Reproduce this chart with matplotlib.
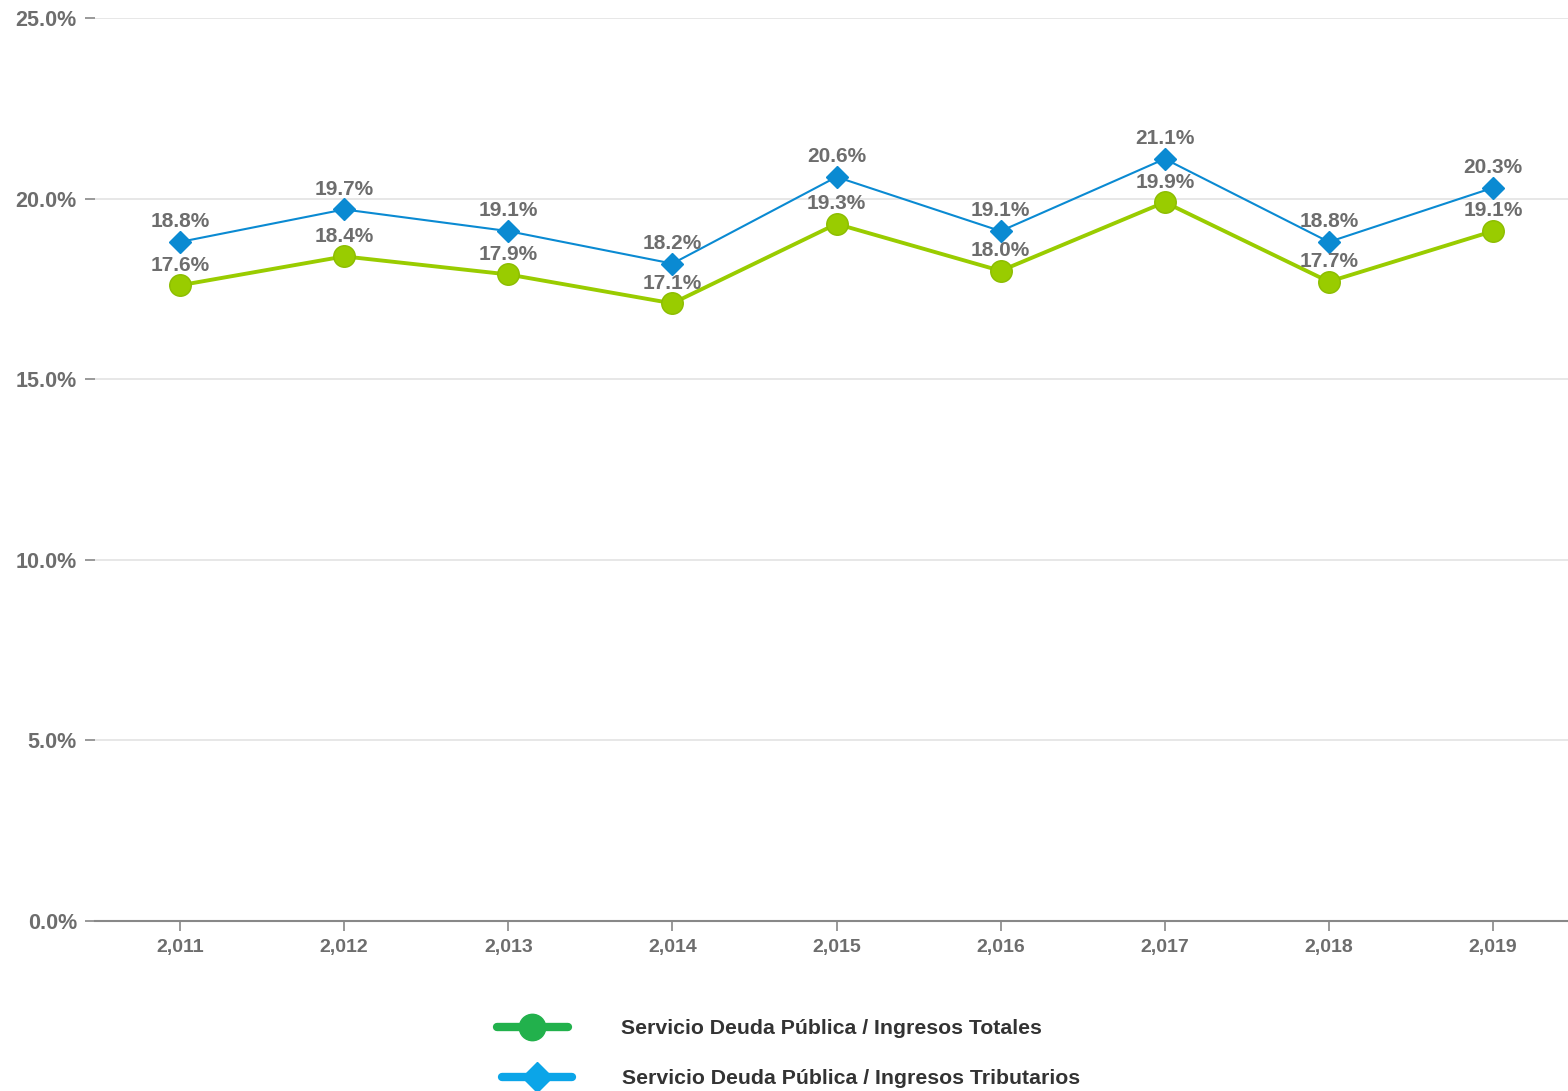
import matplotlib
matplotlib.use("Agg")
import matplotlib.pyplot as plt
from matplotlib.lines import Line2D
import numpy as np

years = ["2,011", "2,012", "2,013", "2,014", "2,015", "2,016", "2,017", "2,018", "2,019"]
totales = [17.6, 18.4, 17.9, 17.1, 19.3, 18.0, 19.9, 17.7, 19.1]
tributarios = [18.8, 19.7, 19.1, 18.2, 20.6, 19.1, 21.1, 18.8, 20.3]
yticks = [0, 5, 10, 15, 20, 25]
names = ["Servicio Deuda Pública / Ingresos Totales", "Servicio Deuda Pública / Ingresos Tributarios"]

plt.rcParams['font.family'] = ['Liberation Sans', 'DejaVu Sans']
W, H = 1568, 1091
fig = plt.figure(figsize=(W/100, H/100), dpi=100)
ax = fig.add_axes([95/W, 1 - 921/H, 1 - 95/W, (921 - 18)/H])

x = np.arange(len(years))
green = "#99cc00"
blue = "#0a8ad2"
lab = "#6d6d6d"

ax.plot(x, totales, color=green, lw=2.8, marker="o", ms=15.5, mfc=green, mec="#8cbd00", mew=1, zorder=3)
ax.plot(x, tributarios, color=blue, lw=1.5, marker="D", ms=11.5, mfc=blue, mec=blue, zorder=4)

for xi, v in zip(x, totales):
    ax.annotate(f"{v:.1f}%", (xi, v), xytext=(0, 14.5), textcoords="offset points",
                ha="center", va="center", color=lab, fontsize=15, fontweight="bold", zorder=5)
for xi, v in zip(x, tributarios):
    ax.annotate(f"{v:.1f}%", (xi, v), xytext=(0, 14.5), textcoords="offset points",
                ha="center", va="center", color=lab, fontsize=15, fontweight="bold", zorder=5)

ax.set_xlim(-0.518, 8.457)
ax.set_ylim(0, 25)
ax.set_yticks(yticks)
ax.set_yticklabels([f"{t:.1f}%" for t in yticks])
ax.set_xticks(x)
ax.set_xticklabels(years)
ax.grid(axis="y", color="#e3e3e3", lw=1.2)
ax.set_axisbelow(True)
for s in ["top", "right", "left"]:
    ax.spines[s].set_visible(False)
ax.spines["bottom"].set_color("#888888")
ax.spines["bottom"].set_linewidth(1.5)
ax.tick_params(axis="y", length=7, width=1.2, color="#888888", pad=6, labelsize=15.5, labelcolor=lab)
ax.tick_params(axis="x", length=7, width=1.2, color="#888888", pad=6, labelsize=14, labelcolor=lab)
for t in ax.get_xticklabels() + ax.get_yticklabels():
    t.set_fontweight("bold")

# legend
def fx(px):
    return px / W
def fy(py):
    return 1 - py / H
fig.add_artist(Line2D([fx(497), fx(568)], [fy(1027), fy(1027)], color="#22b14c", lw=6,
                      solid_capstyle="round", transform=fig.transFigure))
fig.add_artist(Line2D([fx(532)], [fy(1027)], color="#22b14c", marker="o", ms=19,
                      transform=fig.transFigure))
fig.add_artist(Line2D([fx(502), fx(572)], [fy(1077), fy(1077)], color="#0ba5e8", lw=6,
                      solid_capstyle="round", transform=fig.transFigure))
fig.add_artist(Line2D([fx(537)], [fy(1077)], color="#0ba5e8", marker="D", ms=15,
                      transform=fig.transFigure))
fig.text(fx(621), fy(1029), names[0], ha="left", va="center", fontsize=15.3, fontweight="bold", color="#333333")
fig.text(fx(622), fy(1079), names[1], ha="left", va="center", fontsize=15.3, fontweight="bold", color="#333333")

fig.savefig("out.png", dpi=100)
